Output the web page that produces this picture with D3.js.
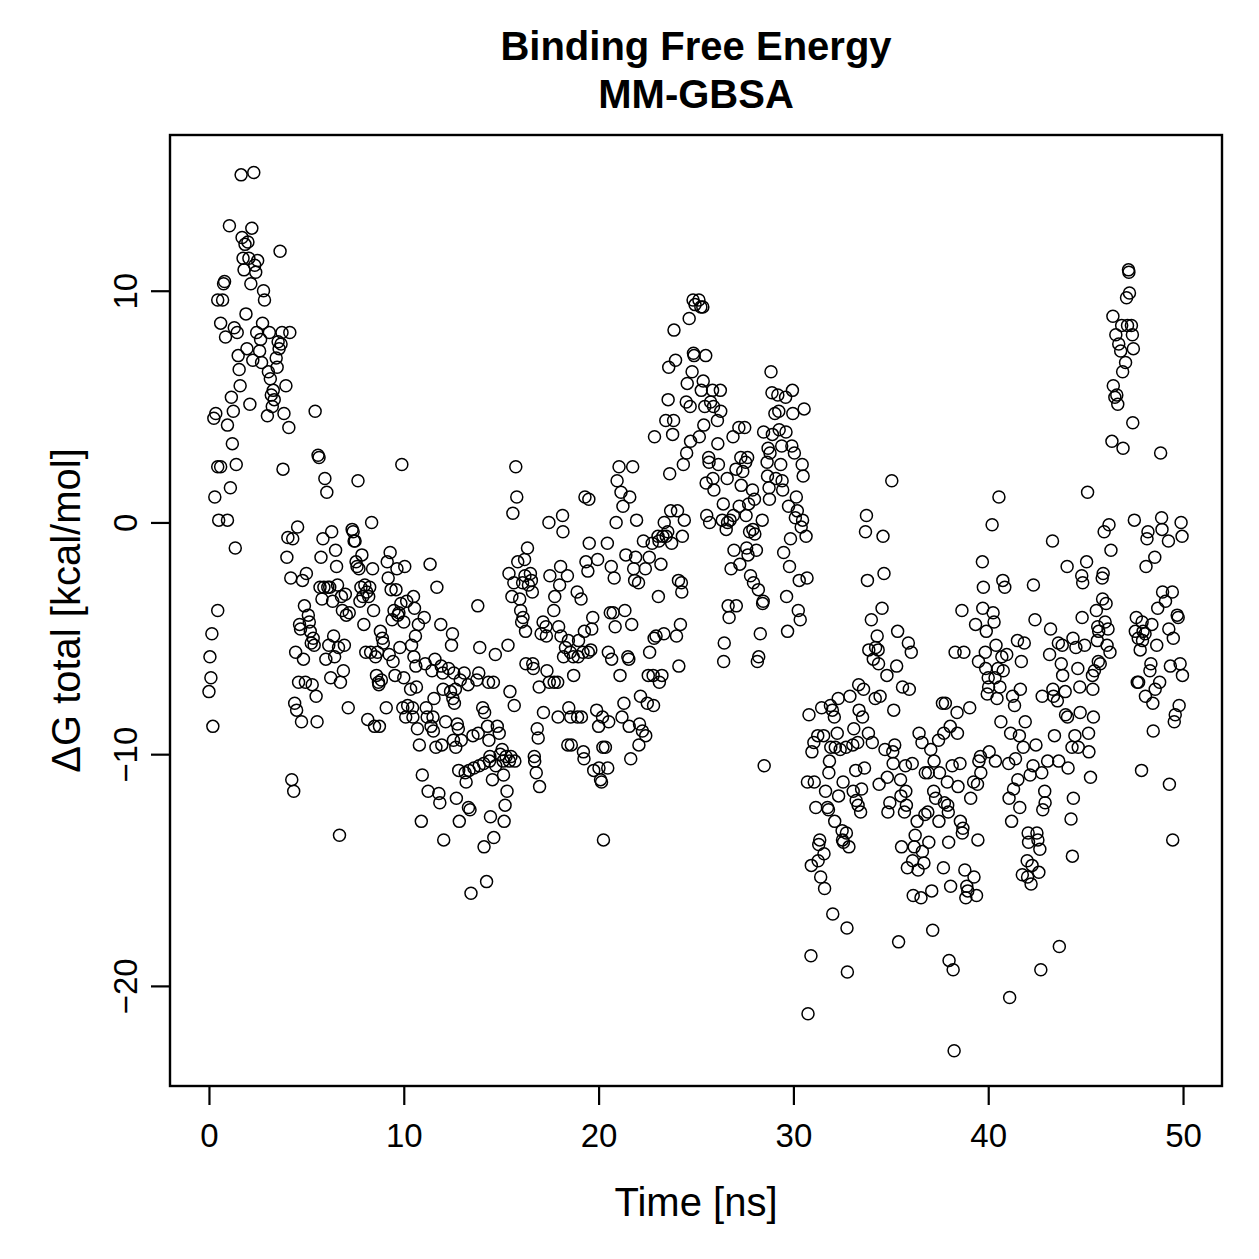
<!DOCTYPE html>
<html>
<head>
<meta charset="utf-8">
<script src="https://cdn.jsdelivr.net/npm/d3@7"></script>
<style>
  html, body { margin: 0; padding: 0; background: #fff; }
  text { font-family: "Liberation Sans", Arial, Helvetica, sans-serif; fill: #000; }
</style>
</head>
<body>
<svg id="chart" width="1259" height="1259"></svg>
<script>
// Time [ns] and ΔG total [kcal/mol] pairs, in 10-ns blocks
const frames00to10 = [
[0,-7.3],[0.05,-5.8],[0.1,-6.7],[0.2,-8.8],[0.15,-4.8],[0.25,4.5],[0.3,1.1],[0.35,4.7],[0.45,-3.8],[0.45,9.6],[0.5,0.1],[0.45,2.4],[0.6,2.4],[0.6,8.6],[0.75,10.3],[0.7,9.6],[0.8,10.4],[0.85,8.0],[0.95,0.1],[0.95,4.2],
[1.05,12.8],[1.1,1.5],[1.15,5.4],[1.2,3.4],[1.3,8.4],[1.25,4.8],[1.35,-1.1],[1.4,2.5],[1.45,8.2],[1.5,7.2],[1.55,6.6],[1.6,5.9],[1.65,15.0],[1.7,12.3],[1.75,11.4],[1.8,10.9],[1.85,12.0],[1.9,9.0],[1.95,7.5],[2.0,12.1],
[2.05,11.4],[2.1,5.1],[2.15,10.3],[2.2,12.7],[2.25,7.0],[2.3,15.1],[2.35,11.1],[2.4,10.8],[2.5,11.3],[2.45,8.2],[2.6,7.4],[2.65,7.9],[2.7,6.9],[2.8,10.0],[2.75,8.6],[2.85,9.6],[3.05,6.5],[3.0,4.6],[3.1,8.2],[3.15,6.2],
[3.2,5.5],[3.3,5.7],[3.25,5.0],[3.35,5.3],[3.45,7.1],[3.55,7.8],[3.5,6.7],[3.6,7.5],[3.65,11.7],[3.7,7.7],[3.75,8.2],[3.85,4.7],[3.8,2.3],[3.95,5.9],[4.0,-1.5],[4.05,-0.65],[4.1,4.1],[4.15,8.2],[4.2,-2.4],[4.3,-0.7],
[4.25,-11.1],[4.35,-11.6],[4.4,-7.8],[4.45,-5.6],[4.5,-8.1],[4.55,-0.2],[4.6,-6.9],[4.65,-4.4],[4.7,-4.6],[4.75,-8.6],[4.8,-2.5],[4.85,-5.9],[4.9,-3.6],[4.95,-6.9],[5.0,-2.2],[5.1,-4.0],[5.15,-4.3],[5.2,-4.7],[5.25,-5.2],[5.3,-7.0],
[5.35,-5.0],[5.4,-5.3],[5.45,4.8],[5.5,-7.5],[5.55,-8.6],[5.6,2.9],[5.65,2.8],[5.7,-2.8],[5.75,-1.5],[5.8,-3.3],[5.85,-0.7],[5.9,-2.8],[5.95,1.9],[6.0,-5.9],[6.05,1.3],[6.1,-2.8],[6.15,-5.3],[6.2,-2.8],[6.25,-6.7],[6.3,-0.4],
[6.35,-3.4],[6.4,-4.9],[6.45,-5.8],[6.5,-1.2],[6.55,-1.9],[6.6,-2.7],[6.65,-5.4],[6.7,-13.5],[6.75,-6.9],[6.8,-3.2],[6.85,-3.8],[6.9,-6.4],[6.95,-5.3],[7.0,-3.1],[7.05,-4.0],[7.15,-8.0],[7.2,-3.9],[7.35,-0.3],[7.4,-0.4],[7.45,-0.8],
[7.5,-0.8],[7.55,-1.7],[7.6,-1.9],[7.65,1.8],[7.7,-2.0],[7.75,-3.4],[7.8,-2.8],[7.85,-1.4],[7.9,-3.2],[7.95,-4.4],[8.0,-2.7],[8.05,-5.6],[8.1,-3.0],[8.15,-8.5],[8.2,-3.2],[8.25,-2.8],[8.3,-5.6],[8.35,0.0],[8.4,-2.0],[8.45,-3.8],
[8.5,-8.8],[8.55,-5.8],[8.6,-6.6],[8.65,-5.6],[8.7,-6.9],[8.72,-7.0],[8.75,-8.8],[8.8,-4.7],[8.85,-6.8],[8.9,-5.0],[8.95,-5.2],[9.1,-8.0],[9.15,-1.7],[9.2,-2.4],[9.25,-5.7],[9.3,-1.3],[9.35,-2.9],[9.4,-4.2],[9.45,-6.0],[9.5,-3.8],
[9.55,-6.6],[9.6,-2.9],[9.65,-2.0],[9.7,-4.0],[9.75,-3.9],[9.8,-5.4],[9.85,-3.5],[9.9,2.5],[9.95,-8.0],[10.0,-4.3]
];
const frames10to20 = [
[10.0,-6.7],[10.05,-1.9],[10.1,-8.4],[10.15,-3.4],[10.2,-7.9],[10.35,-7.2],[10.4,-5.3],[10.45,-8.0],[10.47,-8.4],[10.5,-3.2],[10.52,-5.8],[10.55,-3.7],[10.6,-4.9],[10.62,-6.2],[10.65,-7.1],[10.7,-8.9],[10.75,-4.4],[10.8,-9.6],[10.9,-12.9],[10.95,-10.9],
[11.05,-4.1],[11.1,-6.1],[11.15,-8.0],[11.2,-8.4],[11.25,-11.6],[11.35,-1.8],[11.4,-8.8],[11.45,-6.4],[11.5,-8.4],[11.52,-9.0],[11.55,-7.6],[11.6,-5.9],[11.65,-9.7],[11.7,-2.8],[11.8,-11.7],[11.85,-12.1],[11.9,-4.4],[11.92,-6.2],[11.95,-9.6],[12.0,-6.5],
[12.02,-7.2],[12.05,-13.7],[12.15,-8.6],[12.3,-6.3],[12.4,-7.3],[12.45,-5.3],[12.5,-4.8],[12.52,-7.6],[12.55,-9.4],[12.57,-6.5],[12.6,-7.8],[12.65,-7.2],[12.67,-9.7],[12.7,-11.9],[12.75,-8.7],[12.8,-8.9],[12.82,-10.7],[12.85,-12.9],[12.9,-6.8],[12.95,-9.4],
[13.1,-6.5],[13.15,-10.8],[13.2,-11.2],[13.3,-7.0],[13.32,-12.3],[13.35,-10.7],[13.4,-12.4],[13.45,-16.0],[13.55,-9.2],[13.6,-10.6],[13.75,-6.8],[13.8,-3.6],[13.82,-9.1],[13.85,-6.5],[13.87,-10.5],[13.9,-5.4],[14.05,-8.0],[14.1,-10.4],[14.12,-14.0],[14.15,-8.2],
[14.25,-15.5],[14.3,-8.8],[14.35,-6.9],[14.37,-9.4],[14.4,-10.3],[14.42,-10.1],[14.45,-12.7],[14.55,-11.1],[14.6,-6.9],[14.62,-13.6],[14.7,-5.7],[14.72,-10.5],[14.8,-8.8],[14.9,-9.1],[14.95,-10.0],[15.05,-9.8],[15.1,-10.3],[15.12,-10.9],[15.15,-12.9],[15.2,-12.2],
[15.25,-10.1],[15.3,-11.6],[15.35,-5.3],[15.4,-2.2],[15.42,-10.3],[15.45,-7.3],[15.5,-10.1],[15.55,-3.2],[15.6,0.4],[15.65,-2.6],[15.67,-7.9],[15.7,-10.3],[15.75,2.4],[15.8,1.1],[15.85,-1.7],[15.95,-3.3],[16.0,-3.8],[16.05,-4.3],[16.1,-2.6],[16.12,-4.1],
[16.2,-1.6],[16.22,-2.3],[16.25,-4.7],[16.27,-6.1],[16.35,-1.1],[16.4,-2.7],[16.5,-2.2],[16.55,-2.5],[16.6,-3.0],[16.62,-6.1],[16.65,-6.3],[16.7,-10.1],[16.72,-10.3],[16.8,-10.8],[16.85,-8.9],[16.9,-9.3],[16.95,-7.1],[16.97,-11.4],[17.05,-4.8],[17.15,-4.3],
[17.17,-8.2],[17.3,-4.5],[17.32,-4.9],[17.35,-6.4],[17.45,0.0],[17.47,-6.9],[17.5,-2.3],[17.7,-3.8],[17.72,-6.9],[17.75,-3.2],[17.9,-6.9],[17.92,-8.4],[17.95,-4.5],[18.0,-2.7],[18.05,-1.9],[18.07,-4.9],[18.15,0.3],[18.17,-0.4],[18.2,-5.8],[18.3,-5.4],
[18.4,-2.3],[18.42,-9.6],[18.45,-5.1],[18.47,-8.0],[18.55,-5.6],[18.57,-8.4],[18.6,-9.6],[18.7,-5.8],[18.72,-6.6],[18.9,-3.0],[18.92,-8.4],[18.95,-5.8],[18.97,-5.1],[19.1,-3.3],[19.12,-8.4],[19.2,-5.6],[19.22,-9.9],[19.25,-10.2],[19.27,-4.7],[19.3,1.1],
[19.35,-1.7],[19.45,-2.1],[19.47,-5.6],[19.5,1.0],[19.52,-0.9],[19.6,-5.5],[19.65,-4.6],[19.7,-4.1],[19.75,-10.7],[19.9,-8.1],[19.95,-1.6]
];
const frames20to30 = [
[20.0,-8.8],[20.02,-10.6],[20.1,-11.1],[20.15,-11.2],[20.2,-8.4],[20.22,-9.7],[20.25,-13.7],[20.35,-9.7],[20.45,-0.9],[20.47,-10.6],[20.5,-5.6],[20.52,-8.6],[20.6,-3.9],[20.65,-1.9],[20.67,-5.9],[20.75,-3.9],[20.8,-2.4],[20.85,-4.5],[20.9,0.0],[20.95,1.8],
[21.05,2.4],[21.1,-6.6],[21.15,1.3],[21.2,-8.4],[21.25,0.7],[21.3,-7.8],[21.35,-3.8],[21.4,-1.4],[21.5,-5.8],[21.55,-5.9],[21.57,-8.8],[21.6,1.1],[21.65,-10.2],[21.7,-4.4],[21.75,2.4],[21.8,-2.0],[21.85,-2.5],[21.9,-1.5],[21.95,0.1],[22.05,-2.6],
[22.07,-9.6],[22.1,-8.7],[22.15,-7.5],[22.25,-9.0],[22.3,-0.8],[22.4,-2.0],[22.42,-9.2],[22.5,-7.8],[22.55,-6.6],[22.6,-1.5],[22.62,-5.6],[22.75,-0.9],[22.8,-6.6],[22.82,-7.9],[22.85,-5.0],[22.87,3.7],[22.95,-4.9],[23.05,-0.6],[23.07,-3.2],[23.1,-0.8],
[23.12,-6.9],[23.2,-1.8],[23.25,-6.6],[23.3,-0.6],[23.35,-4.8],[23.37,0.0],[23.45,4.4],[23.47,-0.6],[23.55,-0.4],[23.57,5.3],[23.6,6.7],[23.65,2.1],[23.7,0.5],[23.75,-0.9],[23.8,3.8],[23.85,4.4],[23.87,8.3],[23.95,7.0],[24.0,-4.9],[24.05,0.5],
[24.1,-2.5],[24.12,-6.2],[24.2,-4.4],[24.25,-2.6],[24.27,-3.0],[24.3,-0.6],[24.35,2.5],[24.4,0.1],[24.5,5.2],[24.52,3.0],[24.55,6.0],[24.65,8.8],[24.7,5.0],[24.72,3.5],[24.8,6.5],[24.85,9.6],[24.87,7.3],[24.9,7.2],[24.95,9.4],[25.15,9.6],
[25.25,9.3],[25.35,9.3],[25.17,3.7],[25.27,5.7],[25.37,6.1],[25.4,4.2],[25.45,5.0],[25.5,7.2],[25.52,1.7],[25.55,0.3],[25.65,2.8],[25.67,2.6],[25.7,0.0],[25.75,5.2],[25.85,5.7],[25.87,1.9],[25.9,5.0],[25.92,1.4],[26.1,4.4],[26.12,3.4],
[26.15,2.5],[26.25,5.7],[26.27,4.8],[26.35,0.1],[26.4,0.8],[26.42,-6.0],[26.45,-5.2],[26.55,-0.3],[26.6,1.9],[26.62,0.0],[26.65,-3.6],[26.7,-4.1],[26.75,0.1],[26.8,-2.0],[26.9,3.7],[26.92,0.3],[26.95,-1.2],[27.05,2.3],[27.07,-3.6],[27.2,4.1],
[27.22,0.7],[27.25,-1.8],[27.3,2.8],[27.32,1.6],[27.4,2.2],[27.5,4.1],[27.55,2.6],[27.57,0.3],[27.6,-1.1],[27.65,2.8],[27.67,-1.4],[27.7,0.8],[27.75,-0.4],[27.8,-2.3],[27.9,1.4],[27.92,-0.3],[27.95,-2.6],[28.0,1.0],[28.02,-0.5],[28.1,-1.2],
[28.15,-6.0],[28.2,-2.9],[28.22,-5.8],[28.3,-4.8],[28.4,0.1],[28.42,-3.5],[28.45,-3.4],[28.47,3.9],[28.5,-10.5],[28.65,2.6],[28.67,2.0],[28.7,3.2],[28.75,1.5],[28.77,1.0],[28.8,3.0],[28.85,6.5],[28.9,5.6],[28.92,3.8],[29.05,4.7],[29.1,1.9],
[29.2,5.5],[29.25,4.8],[29.27,4.0],[29.35,2.5],[29.4,3.3],[29.42,1.8],[29.45,1.4],[29.5,-1.3],[29.6,5.4],[29.62,3.9],[29.65,-3.2],[29.7,-4.7],[29.75,0.7],[29.8,-1.9],[29.85,-0.7],[29.95,5.7],[29.97,4.7],[29.92,3.3]
];
const frames30to40 = [
[30.05,3.0],[30.1,0.2],[30.15,1.1],[30.2,0.5],[30.25,-3.8],[30.3,-2.5],[30.35,-4.2],[30.4,-0.2],[30.45,2.5],[30.47,0.1],[30.5,2.0],[30.55,4.9],[30.65,-0.6],[30.7,-2.4],[30.72,-11.2],[30.75,-21.2],[30.8,-8.3],[30.9,-18.7],[30.92,-14.8],[30.95,-9.9],
[31.05,-9.5],[31.07,-11.2],[31.15,-12.3],[31.25,-9.2],[31.27,-14.6],[31.3,-13.9],[31.35,-13.7],[31.4,-15.3],[31.45,-8.0],[31.55,-9.2],[31.57,-14.3],[31.6,-15.8],[31.65,-11.6],[31.75,-12.3],[31.8,-12.4],[31.82,-10.8],[31.85,-10.3],[31.9,-7.9],[31.92,-9.7],[32.0,-8.1],
[32.02,-16.9],[32.1,-8.4],[32.12,-12.9],[32.15,-9.7],[32.25,-9.1],[32.3,-7.6],[32.32,-11.8],[32.4,-9.8],[32.5,-13.3],[32.52,-13.7],[32.55,-11.2],[32.57,-13.8],[32.7,-9.7],[32.72,-13.4],[32.75,-17.5],[32.77,-19.4],[32.85,-14.0],[32.9,-7.5],[33.05,-9.6],[33.07,-11.6],
[33.1,-8.9],[33.2,-10.7],[33.22,-12.0],[33.3,-9.5],[33.32,-12.2],[33.35,-7.0],[33.37,-8.1],[33.45,-12.5],[33.5,-11.5],[33.55,-8.4],[33.6,-7.2],[33.65,-10.6],[33.7,-0.4],[33.75,0.3],[33.8,-2.5],[33.85,-9.1],[33.87,-5.5],[34.0,-4.2],[34.05,-9.5],[34.1,-5.9],
[34.2,-7.6],[34.22,-5.4],[34.3,-4.9],[34.35,-5.5],[34.37,-6.1],[34.4,-11.3],[34.45,-7.5],[34.55,-3.7],[34.6,-0.6],[34.65,-2.2],[34.7,-9.8],[34.8,-6.6],[34.82,-11.0],[34.85,-12.5],[34.95,-12.1],[35.05,1.8],[35.1,-9.9],[35.12,-10.4],[35.15,-8.1],[35.2,-9.6],
[35.3,-6.2],[35.35,-4.7],[35.4,-18.1],[35.5,-11.1],[35.52,-11.8],[35.55,-14.0],[35.6,-7.1],[35.7,-12.5],[35.75,-10.5],[35.77,-11.6],[35.8,-12.2],[35.85,-14.9],[35.9,-5.2],[35.95,-7.2],[36.05,-5.6],[36.1,-10.4],[36.12,-14.6],[36.15,-16.1],[36.2,-14.0],[36.25,-13.5],
[36.35,-12.9],[36.4,-15.0],[36.45,-9.1],[36.55,-16.2],[36.6,-9.5],[36.62,-14.2],[36.7,-14.7],[36.75,-12.6],[36.77,-10.8],[36.9,-12.5],[36.92,-10.8],[36.95,-13.8],[37.05,-9.8],[37.1,-15.9],[37.15,-17.6],[37.2,-11.6],[37.22,-10.3],[37.3,-11.9],[37.45,-9.4],[37.47,-12.9],
[37.5,-10.8],[37.7,-14.9],[37.65,-7.8],[37.72,-9.1],[37.75,-12.1],[37.8,-7.8],[37.9,-11.2],[37.92,-12.2],[37.95,-12.5],[37.97,-13.8],[37.99,-18.9],[38.05,-8.8],[38.07,-15.7],[38.15,-10.5],[38.2,-19.3],[38.25,-22.8],[38.3,-5.6],[38.4,-8.2],[38.42,-9.1],[38.45,-11.4],
[38.55,-10.4],[38.57,-12.9],[38.65,-3.8],[38.67,-13.4],[38.7,-13.2],[38.75,-5.6],[38.8,-15.0],[38.85,-16.2],[38.9,-15.7],[38.95,-15.9],[39.05,-8.0],[39.1,-11.9],[39.25,-11.2],[39.27,-15.3],[39.35,-4.4],[39.4,-16.1],[39.45,-11.3],[39.47,-13.7],[39.5,-6.0],[39.52,-10.3],
[39.6,-10.1],[39.62,-10.8],[39.7,-1.7],[39.72,-3.7],[39.75,-2.8],[39.85,-5.6],[39.87,-6.3],[39.9,-4.7],[39.95,-7.4]
];
const frames40to50 = [
[40.0,-6.7],[40.02,-7.1],[40.05,-9.9],[40.2,-0.1],[40.25,-3.9],[40.3,-4.3],[40.35,-6.7],[40.37,-10.3],[40.4,-5.3],[40.45,-7.6],[40.5,-6.3],[40.55,1.1],[40.6,-7.1],[40.65,-8.6],[40.7,-5.8],[40.75,-2.5],[40.77,-6.4],[40.85,-2.8],[40.95,-5.7],[41.05,-10.4],
[41.07,-11.9],[41.1,-20.5],[41.15,-9.1],[41.2,-12.9],[41.25,-7.5],[41.3,-11.5],[41.35,-7.9],[41.4,-10.2],[41.5,-5.1],[41.52,-11.1],[41.6,-9.2],[41.62,-12.3],[41.65,-7.2],[41.7,-6.0],[41.75,-15.2],[41.8,-9.7],[41.85,-5.2],[41.9,-8.6],[42.0,-14.6],[42.02,-15.3],
[42.05,-13.4],[42.07,-13.8],[42.15,-10.9],[42.2,-15.6],[42.25,-14.8],[42.3,-10.5],[42.32,-2.7],[42.4,-4.2],[42.45,-9.6],[42.5,-13.4],[42.55,-13.7],[42.6,-15.1],[42.65,-14.1],[42.7,-19.3],[42.75,-10.8],[42.77,-7.5],[42.8,-12.4],[42.9,-11.6],[42.92,-12.1],[43.05,-10.3],
[43.15,-5.7],[43.2,-4.6],[43.3,-0.8],[43.32,-7.2],[43.35,-7.5],[43.4,-9.2],[43.55,-7.7],[43.6,-5.2],[43.62,-10.3],[43.65,-18.3],[43.75,-6.1],[43.8,-5.3],[43.82,-6.6],[43.95,-7.3],[43.97,-8.3],[44.05,-1.9],[44.07,-8.4],[44.1,-10.6],[44.25,-12.8],[44.3,-9.7],
[44.32,-14.4],[44.35,-5.0],[44.37,-11.9],[44.45,-9.2],[44.5,-5.4],[44.6,-6.3],[44.62,-9.7],[44.7,-7.1],[44.72,-8.2],[44.8,-2.3],[44.82,-4.1],[44.85,-2.6],[44.95,-5.3],[45.05,-1.7],[45.1,1.3],[45.15,-9.1],[45.17,-9.9],[45.25,-11.0],[45.35,-6.6],[45.37,-7.2],
[45.4,-8.4],[45.45,-6.4],[45.6,-5.1],[45.62,-4.5],[45.55,-3.8],[45.65,-6.0],[45.67,-4.7],[45.75,-6.1],[45.85,-2.4],[45.87,-3.3],[45.9,-2.2],[45.95,-0.4],[46.0,-4.3],[46.05,-3.5],[46.1,-5.3],[46.15,-4.6],[46.2,-0.1],[46.25,-5.6],[46.3,-1.2],[46.35,3.5],
[46.4,8.9],[46.42,5.9],[46.5,5.4],[46.55,8.1],[46.6,5.5],[46.65,5.1],[46.7,7.7],[46.8,7.4],[46.85,8.5],[46.9,6.5],[46.92,3.2],[47.05,6.9],[47.1,9.7],[47.15,8.5],[47.2,10.9],[47.22,10.8],[47.25,9.9],[47.35,8.5],[47.4,8.1],[47.42,4.3],
[47.45,7.5],[47.5,0.1],[47.55,-4.7],[47.6,-4.1],[47.65,-6.9],[47.7,-5.0],[47.72,-6.9],[47.8,-5.5],[47.9,-4.3],[47.92,-5.1],[47.87,-10.7],[47.95,-4.7],[48.05,-4.8],[48.07,-7.5],[48.1,-1.9],[48.15,-0.7],[48.2,-0.4],[48.3,-6.4],[48.35,-6.1],[48.4,-4.4],
[48.45,-7.8],[48.47,-9.0],[48.55,-1.5],[48.57,-7.2],[48.65,-5.3],[48.7,-3.7],[48.8,-6.9],[48.85,3.0],[48.9,0.2],[48.92,-0.3],[48.95,-3.0],[49.1,-3.4],[49.25,-0.8],[49.27,-4.6],[49.3,-11.3],[49.35,-6.2],[49.45,-3.0],[49.47,-13.7],[49.5,-5.0],[49.55,-8.6],
[49.6,-8.3],[49.7,-4.0],[49.75,-4.1],[49.8,-7.9],[49.85,-6.1],[49.9,0.0],[49.95,-0.6],[49.97,-6.6]
];

const xTicks = [0, 10, 20, 30, 40, 50];
const yTicks = [-20, -10, 0, 10];
const titleLines = ["Binding Free Energy", "MM-GBSA"];
const xLabel = "Time [ns]";
const yLabel = "\u0394G total [kcal/mol]";

const points = [].concat(frames00to10, frames10to20, frames20to30, frames30to40, frames40to50);

const svg = d3.select("#chart");
const plotL = 170, plotR = 1222, plotT = 135, plotB = 1086;

const x = d3.scaleLinear().domain([-2, 52]).range([plotL, plotR]);
const y = d3.scaleLinear().domain([-24.32, 16.72]).range([plotB, plotT]);

// points
svg.append("g")
  .selectAll("circle")
  .data(points)
  .join("circle")
  .attr("cx", d => x(d[0]))
  .attr("cy", d => y(d[1]))
  .attr("r", 6)
  .attr("fill", "none")
  .attr("stroke", "#000")
  .attr("stroke-width", 1.5);

// axes
const xAxis = d3.axisBottom(x).tickValues(xTicks).tickSize(19).tickPadding(12).tickSizeOuter(0);
const gx = svg.append("g").attr("transform", `translate(0,${plotB})`).call(xAxis);
gx.select(".domain").remove();
gx.selectAll(".tick line").attr("stroke", "#000").attr("stroke-width", 2.2);
gx.selectAll(".tick text")
  .attr("font-size", 33)
  .attr("font-family", "'Liberation Sans', Arial, sans-serif")
  .attr("fill", "#000")
  .attr("y", 61).attr("dy", 0);

const yAxis = d3.axisLeft(y).tickValues(yTicks).tickSize(19).tickSizeOuter(0);
const gy = svg.append("g").attr("transform", `translate(${plotL},0)`).call(yAxis);
gy.select(".domain").remove();
gy.selectAll(".tick line").attr("stroke", "#000").attr("stroke-width", 2.2);
gy.selectAll(".tick text")
  .attr("font-size", 33)
  .attr("font-family", "'Liberation Sans', Arial, sans-serif")
  .attr("fill", "#000")
  .attr("x", null).attr("dy", null)
  .attr("text-anchor", "middle")
  .attr("transform", "translate(-33,0) rotate(-90)");

// box
svg.append("rect")
  .attr("x", plotL).attr("y", plotT)
  .attr("width", plotR - plotL).attr("height", plotB - plotT)
  .attr("fill", "none").attr("stroke", "#000").attr("stroke-width", 2.4);

// title
svg.append("text").attr("x", (plotL + plotR) / 2).attr("y", 60)
  .attr("text-anchor", "middle").attr("font-size", 40).attr("font-weight", "bold")
  .text(titleLines[0]);
svg.append("text").attr("x", (plotL + plotR) / 2).attr("y", 108)
  .attr("text-anchor", "middle").attr("font-size", 40).attr("font-weight", "bold")
  .text(titleLines[1]);

// axis labels
svg.append("text").attr("x", (plotL + plotR) / 2).attr("y", 1216)
  .attr("text-anchor", "middle").attr("font-size", 40).text(xLabel);
svg.append("text")
  .attr("transform", `translate(80,${(plotT + plotB) / 2}) rotate(-90)`)
  .attr("text-anchor", "middle").attr("font-size", 40).text(yLabel);
</script>
</body>
</html>
